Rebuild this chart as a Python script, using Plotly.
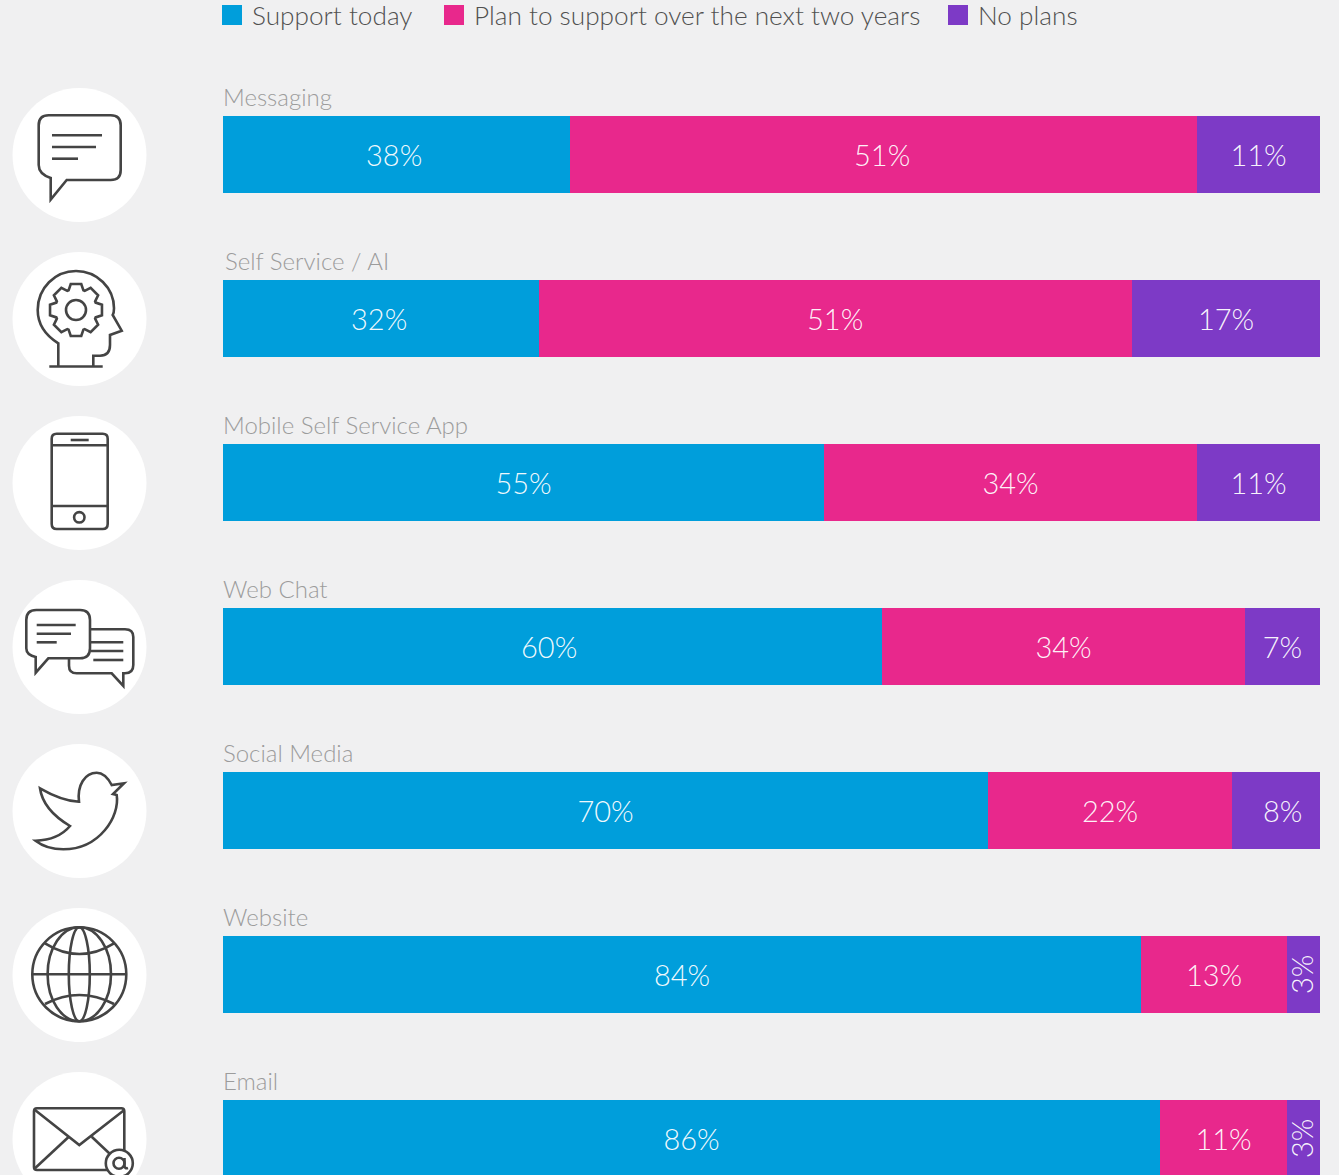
import math
import plotly.graph_objects as go

W, H = 1339, 1175

categories = ["Messaging", "Self Service / AI", "Mobile Self Service App", "Web Chat",
              "Social Media", "Website", "Email"]
series_names = ["Support today", "Plan to support over the next two years", "No plans"]
# Bar lengths as drawn (they differ a little from the printed labels in the source)
support_today = [31.6, 28.85, 54.75, 60.05, 69.7, 83.7, 85.4]
plan_to_support = [57.2, 54.0, 34.05, 33.15, 22.3, 13.3, 11.6]
no_plans = [11.2, 17.15, 11.2, 6.8, 8.0, 3.0, 3.0]
support_labels = ["38%", "32%", "55%", "60%", "70%", "84%", "86%"]
plan_labels = ["51%", "51%", "34%", "34%", "22%", "13%", "11%"]
none_labels = ["11%", "17%", "11%", "7%", "8%", "3%", "3%"]
rotated_labels = ["3%"]

BLUE, PINK, PURPLE = "#009EDB", "#E8288C", "#7D3AC6"
BG = "#F0F0F1"
INK = "#444444"
FONT = "Lato"
STROKE = 2.6

ROW_PITCH = 164.0
FIRST_CENTER = 154.5
BAR_PX = 77.0


def px_path(d):
    """Convert an absolute pixel SVG path into paper coordinates."""
    out, cmd, idx = [], None, 0
    for tok in d.replace(",", " ").split():
        if tok.isalpha():
            cmd, idx = tok, 0
            out.append(tok)
            continue
        v = float(tok)
        if cmd == "H" or (cmd not in "V" and idx % 2 == 0):
            out.append(f"{v / W:.5f}")
        else:
            out.append(f"{1 - v / H:.5f}")
        idx += 1
    return " ".join(out)


def ellipse(cx, cy, rx, ry):
    k = 0.5523
    return (f"M {cx - rx} {cy} C {cx - rx} {cy - k * ry} {cx - k * rx} {cy - ry} {cx} {cy - ry} "
            f"C {cx + k * rx} {cy - ry} {cx + rx} {cy - k * ry} {cx + rx} {cy} "
            f"C {cx + rx} {cy + k * ry} {cx + k * rx} {cy + ry} {cx} {cy + ry} "
            f"C {cx - k * rx} {cy + ry} {cx - rx} {cy + k * ry} {cx - rx} {cy} Z")


def rrect(x0, y0, x1, y1, r):
    return (f"M {x0 + r} {y0} H {x1 - r} Q {x1} {y0} {x1} {y0 + r} V {y1 - r} "
            f"Q {x1} {y1} {x1 - r} {y1} H {x0 + r} Q {x0} {y1} {x0} {y1 - r} V {y0 + r} "
            f"Q {x0} {y0} {x0 + r} {y0} Z")


def gear(cx, cy, teeth=8, r_out=26.5, r_in=21):
    pts = []
    step = 2 * math.pi / teeth
    for i in range(teeth):
        a = -math.pi / 2 + i * step
        for da, r in ((-0.36, r_in), (-0.2, r_out), (0.2, r_out), (0.36, r_in)):
            pts.append((cx + r * math.cos(a + da), cy + r * math.sin(a + da)))
    return "M " + " L ".join(f"{x:.2f} {y:.2f}" for x, y in pts) + " Z"


icons = [
    # messaging
    "M 48.7 115.3 H 110.7 Q 120.7 115.3 120.7 125.3 V 170 Q 120.7 180 110.7 180 H 66.7 L 50.7 199.5 V 178 "
    "Q 38.7 174 38.7 165 V 125.3 Q 38.7 115.3 48.7 115.3 Z",
    "M 52 135.3 H 102", "M 52 147 H 96", "M 52 158.7 H 78",
    # head with gear
    "M 58.3 366 V 343.3 C 45 335 37.7 323 37.7 310 C 37.7 288 55 271 76 271 C 97 271 114 288 114 308.3 "
    "Q 114 313 112.7 315 L 121.7 330.7 L 110 335 V 345 Q 110 355.7 100 355.7 H 93.3 V 366",
    "M 49.3 366.5 H 102.7",
    gear(76, 310), ellipse(76, 310, 10, 10),
    # phone
    rrect(51.7, 433.7, 107.7, 529, 5), "M 51.7 445.3 H 107.7", "M 51.7 506 H 107.7",
    "M 70.7 440 H 88.7", ellipse(79.3, 517.3, 5.2, 5.2),
    # web chat, back bubble first
    "M 90 629.3 H 125 Q 133.3 629.3 133.3 637 V 665 Q 133.3 673.3 125 673.3 H 123.3 V 686 L 111.7 673.3 H 76.7 "
    "Q 69 673.3 69 665.7 V 658.3",
    "M 90.7 642.3 H 123.3", "M 90.7 651 H 123.3", "M 93.3 660 H 123.3",
    "M 36.3 610 H 80 Q 90 610 90 620 V 648.3 Q 90 658.3 80 658.3 H 48.3 L 35.7 672.7 V 657 "
    "Q 26.3 655 26.3 648.3 V 620 Q 26.3 610 36.3 610 Z",
    "M 36.7 625 H 75.7", "M 36.7 633.7 H 71", "M 36.7 642.3 H 56.7",
    # bird
    "M 40 788.3 Q 62 801 79 801.7 C 77 785 85 772.7 96.7 772.7 C 103 772.7 108 778 111.7 785 L 124 783.3 "
    "L 113 794 L 116.7 795 C 120 816 100 849.3 63.3 849.3 Q 46.7 849.3 35.5 840.7 Q 58.3 840 70 826 "
    "Q 43 810 40 788.3 Z",
    # globe
    ellipse(79.3, 974.3, 47, 47), ellipse(79.3, 974.3, 31.7, 47), ellipse(79.3, 974.3, 10.5, 47),
    "M 32.3 974.3 H 126.3", "M 45 943.3 Q 79.3 964.7 114 943.3", "M 45 1004 Q 79.3 986 114 1004",
    # envelope
    rrect(34, 1108.3, 124.3, 1170, 3), "M 35 1110 L 79.3 1145 L 124.3 1110",
    "M 35 1168.3 L 68.3 1137.3", "M 91.7 1136.7 L 110 1154",
]

shapes = []
for i in range(len(categories)):
    cy = FIRST_CENTER + 0.5 + i * ROW_PITCH
    shapes.append(dict(type="path", xref="paper", yref="paper", layer="below",
                       path=px_path(ellipse(79.5, cy, 67, 67)), fillcolor="white",
                       line=dict(width=0)))
for p in icons:
    shapes.append(dict(type="path", xref="paper", yref="paper", layer="above",
                       path=px_path(p), line=dict(color=INK, width=STROKE)))
# @ badge on the envelope
shapes.append(dict(type="path", xref="paper", yref="paper", layer="above",
                   path=px_path(ellipse(119.3, 1163.3, 13.5, 13.5)), fillcolor="white",
                   line=dict(color=INK, width=STROKE)))
shapes.append(dict(type="path", xref="paper", yref="paper", layer="above",
                   path=px_path(ellipse(119, 1163.3, 5.5, 5.5)),
                   line=dict(color=INK, width=STROKE)))
shapes.append(dict(type="path", xref="paper", yref="paper", layer="above",
                   path=px_path("M 124.5 1158 V 1166 Q 125 1169 128 1168"),
                   line=dict(color=INK, width=STROKE)))

LABEL_FONT = dict(family=FONT, size=29, color="rgba(255,255,255,0.95)", weight=300)
# labels that sit off-centre in the source, with their horizontal nudge in pixels
label_nudges = {(0, 0): -2, (0, 1): -2, (0, 3): -3.5, (1, 0): -1.5, (1, 1): -1, (2, 4): 6}
rows = [support_today, plan_to_support, no_plans]
label_rows = [support_labels, plan_labels, none_labels]

fig = go.Figure()
for s, (name, vals, labels, color) in enumerate([
    (series_names[0], support_today, support_labels, BLUE),
    (series_names[1], plan_to_support, plan_labels, PINK),
    (series_names[2], no_plans, none_labels, PURPLE),
]):
    shown = ["" if (t in rotated_labels or (s, i) in label_nudges) else t for i, t in enumerate(labels)]
    fig.add_trace(go.Bar(
        y=categories, x=vals, orientation="h", width=BAR_PX / ROW_PITCH, name=name,
        marker=dict(color=color, line=dict(width=0)), text=shown,
        textposition="inside", insidetextanchor="middle", textangle=0, constraintext="none",
        insidetextfont=LABEL_FONT, showlegend=False, hoverinfo="skip"))

for i, (name, color) in enumerate(zip(series_names, [BLUE, PINK, PURPLE])):
    fig.add_trace(go.Scatter(
        x=[None], y=[None], mode="markers", name=name,
        marker=dict(symbol="square", size=16, color=color, line=dict(width=4, color=color)),
        legend="legend" if i == 0 else f"legend{i + 1}", showlegend=True, hoverinfo="skip"))

annotations = []
for i, c in enumerate(categories):
    annotations.append(dict(
        x=0, y=c, xref="x", yref="y", xanchor="left", yanchor="middle", yshift=58.5,
        xshift=0 if c.startswith("Self") else -2,
        text=c, showarrow=False, font=dict(family=FONT, size=24, color="#9C9C9C", weight=300)))
    if none_labels[i] in rotated_labels:
        annotations.append(dict(
            x=support_today[i] + plan_to_support[i] + no_plans[i] / 2, y=c, xref="x", yref="y",
            text=none_labels[i], textangle=-90, showarrow=False, xshift=-2, font=LABEL_FONT))
for (s, i), dx in label_nudges.items():
    annotations.append(dict(
        x=sum(r[i] for r in rows[:s]) + rows[s][i] / 2, y=categories[i], xref="x", yref="y",
        text=label_rows[s][i], showarrow=False, xshift=dx, font=LABEL_FONT))


def legend_at(px_x):
    return dict(x=px_x / W, y=1 - 15.5 / H, xanchor="left", yanchor="middle", orientation="h",
                bgcolor="rgba(0,0,0,0)", borderwidth=0, itemsizing="trace", itemclick=False,
                itemdoubleclick=False,
                font=dict(family=FONT, size=26.2, color="#505050", weight=300))


fig.update_layout(
    width=W, height=H, margin=dict(l=0, r=0, t=0, b=0, pad=0, autoexpand=False), autosize=False,
    paper_bgcolor=BG, plot_bgcolor="rgba(0,0,0,0)",
    barmode="stack", bargap=0, showlegend=True,
    legend=legend_at(212), legend2=legend_at(434), legend3=legend_at(938),
    xaxis=dict(domain=[223 / W, 1320 / W], range=[0, 100], visible=False, fixedrange=True),
    yaxis=dict(domain=[0, 1], type="category", categoryorder="array", categoryarray=categories,
               range=[(H - FIRST_CENTER) / ROW_PITCH, -FIRST_CENTER / ROW_PITCH],
               visible=False, fixedrange=True),
    shapes=shapes, annotations=annotations,
)

fig.write_html("out.html", config=dict(displayModeBar=False),
               post_script="document.body.style.margin='0';document.body.style.background='%s';"
                           "document.documentElement.style.overflow='hidden';" % BG)
